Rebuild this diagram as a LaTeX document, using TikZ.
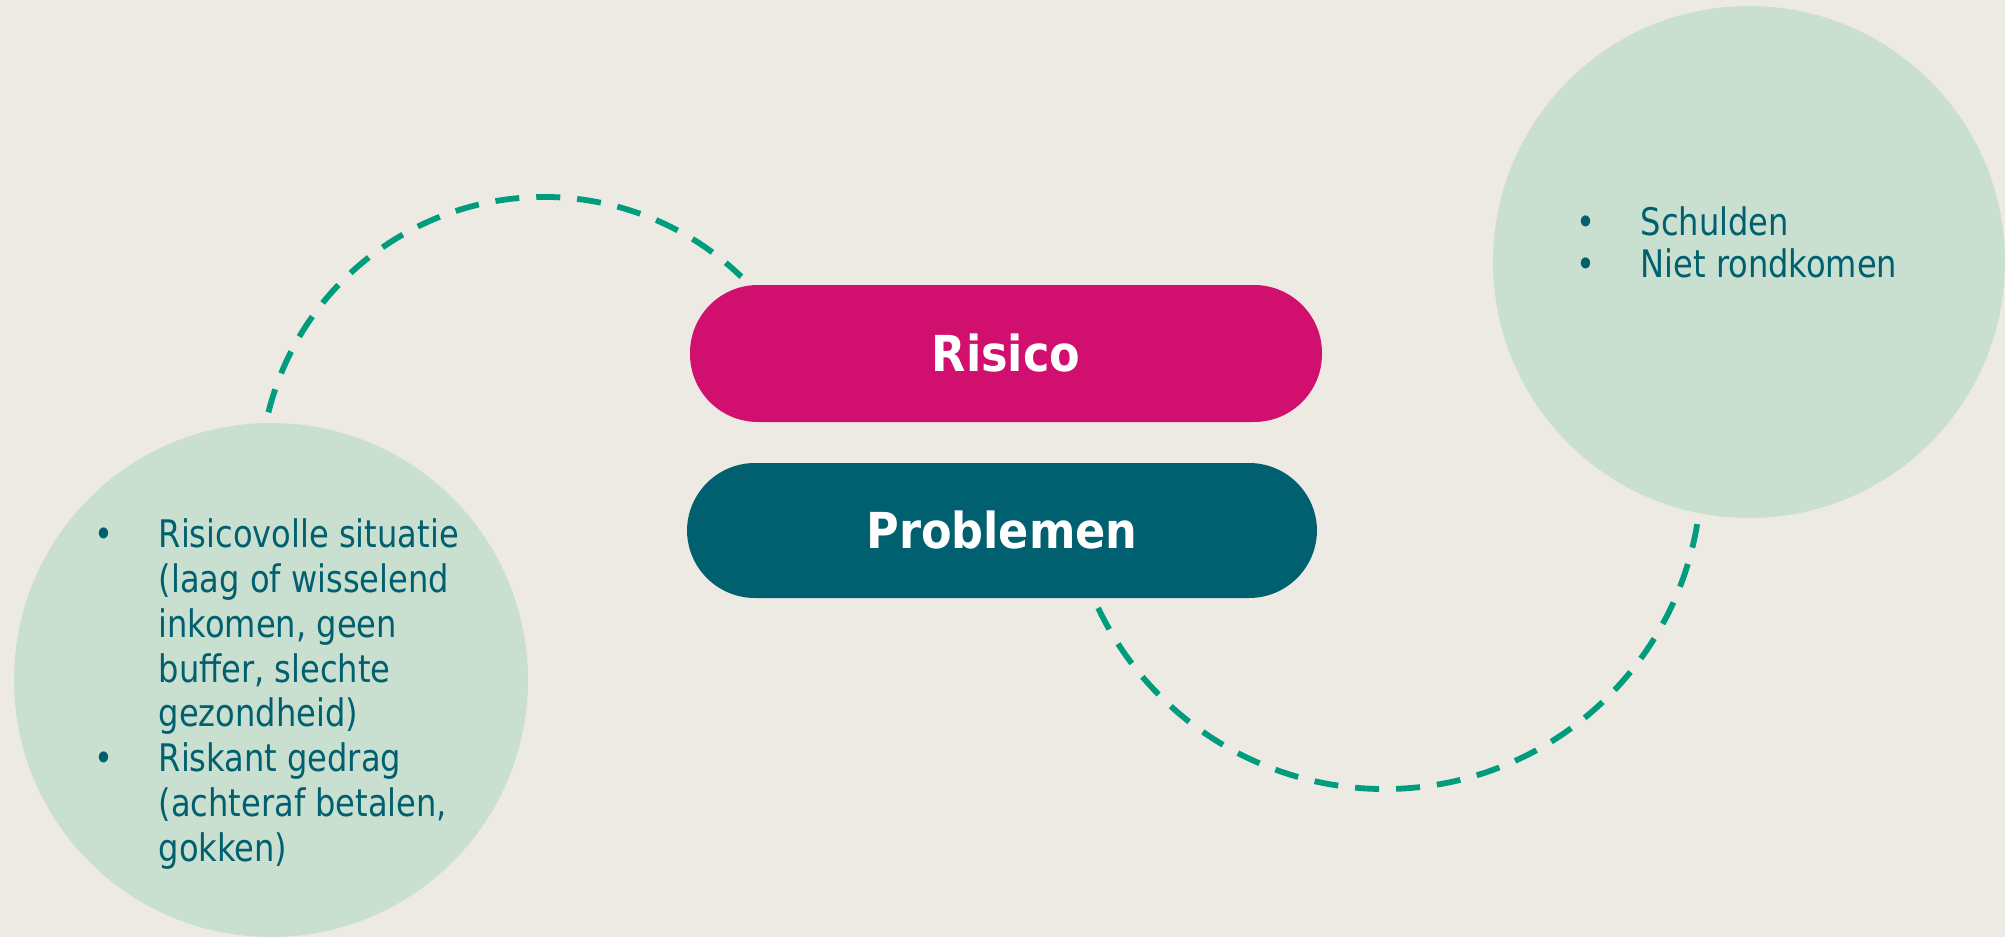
\documentclass[tikz,border=0pt]{standalone}
\usepackage{fontspec}
\setmainfont{DejaVu Sans Condensed}[BoldFont={DejaVu Sans Condensed Bold}]
\newfontfamily\lijstfont{DejaVu Sans Condensed}[FakeStretch=0.94]
\usetikzlibrary{positioning}

\definecolor{paper}{RGB}{237,234,227}
\definecolor{mint}{RGB}{201,223,207}
\definecolor{risicopink}{RGB}{209,15,110}
\definecolor{petrol}{RGB}{0,96,111}
\definecolor{dashgreen}{RGB}{0,156,126}

\newcommand{\bol}{\makebox[1.1cm]{•}}

\begin{document}
\begin{tikzpicture}[
    bubble/.style={circle, fill=mint, inner sep=0pt, minimum size=5.14cm},
    pill/.style={rectangle, rounded corners=0.68cm, minimum width=6.32cm, minimum height=1.37cm,
      inner sep=0pt, text=white, font=\fontsize{14.1}{16}\selectfont\bfseries},
    bullets/.style={inner sep=0pt, text=petrol, font=\lijstfont\fontsize{10.8}{12.75}\selectfont},
    loop line/.style={draw=dashgreen, line width=0.058cm, dash pattern=on 0.24cm off 0.17cm}
  ]
    % background
    \fill[paper] (0,0) rectangle (20.05,9.37);
    \useasboundingbox (0,0) rectangle (20.05,9.37);

    % draw circles
    \node[bubble] (oorzaak) at (2.71,2.57) {};
    \node[bubble, minimum size=5.12cm] (gevolg) at (17.49,6.75) {};

    % draw pills
    \node[pill, fill=risicopink] (risico) at (10.06,5.835) {Risico};
    \node[pill, fill=petrol, minimum width=6.30cm, minimum height=1.35cm] (problemen) at (10.02,4.065) {Problemen};

    % draw dashed arcs
    \coordinate (lus1) at (5.44,4.56);
    \coordinate (lus2) at (13.845,4.65);
    \draw[loop line] (lus1) ++(166:2.84) arc[start angle=166, end angle=46, radius=2.84];
    \draw[loop line] (lus2) ++(205.4:3.17) arc[start angle=205.4, end angle=351.3, radius=3.17];

    % draw lists
    \node[bullets, anchor=base west] (oorzaken) at (0.48,3.893) {%
      \begin{tabular}[t]{@{}c@{}l@{}}
        \bol & Risicovolle situatie\\
             & (laag of wisselend\\
             & inkomen, geen\\
             & buffer, slechte\\
             & gezondheid)\\
        \bol & Riskant gedrag\\
             & (achteraf betalen,\\
             & gokken)
      \end{tabular}};
    \node[bullets, anchor=base west, font=\lijstfont\fontsize{10.8}{12.2}\selectfont] (gevolgen) at (15.30,7.02) {%
      \begin{tabular}[t]{@{}c@{}l@{}}
        \bol & Schulden\\
        \bol & Niet rondkomen
      \end{tabular}};
  \end{tikzpicture}
\end{document}
